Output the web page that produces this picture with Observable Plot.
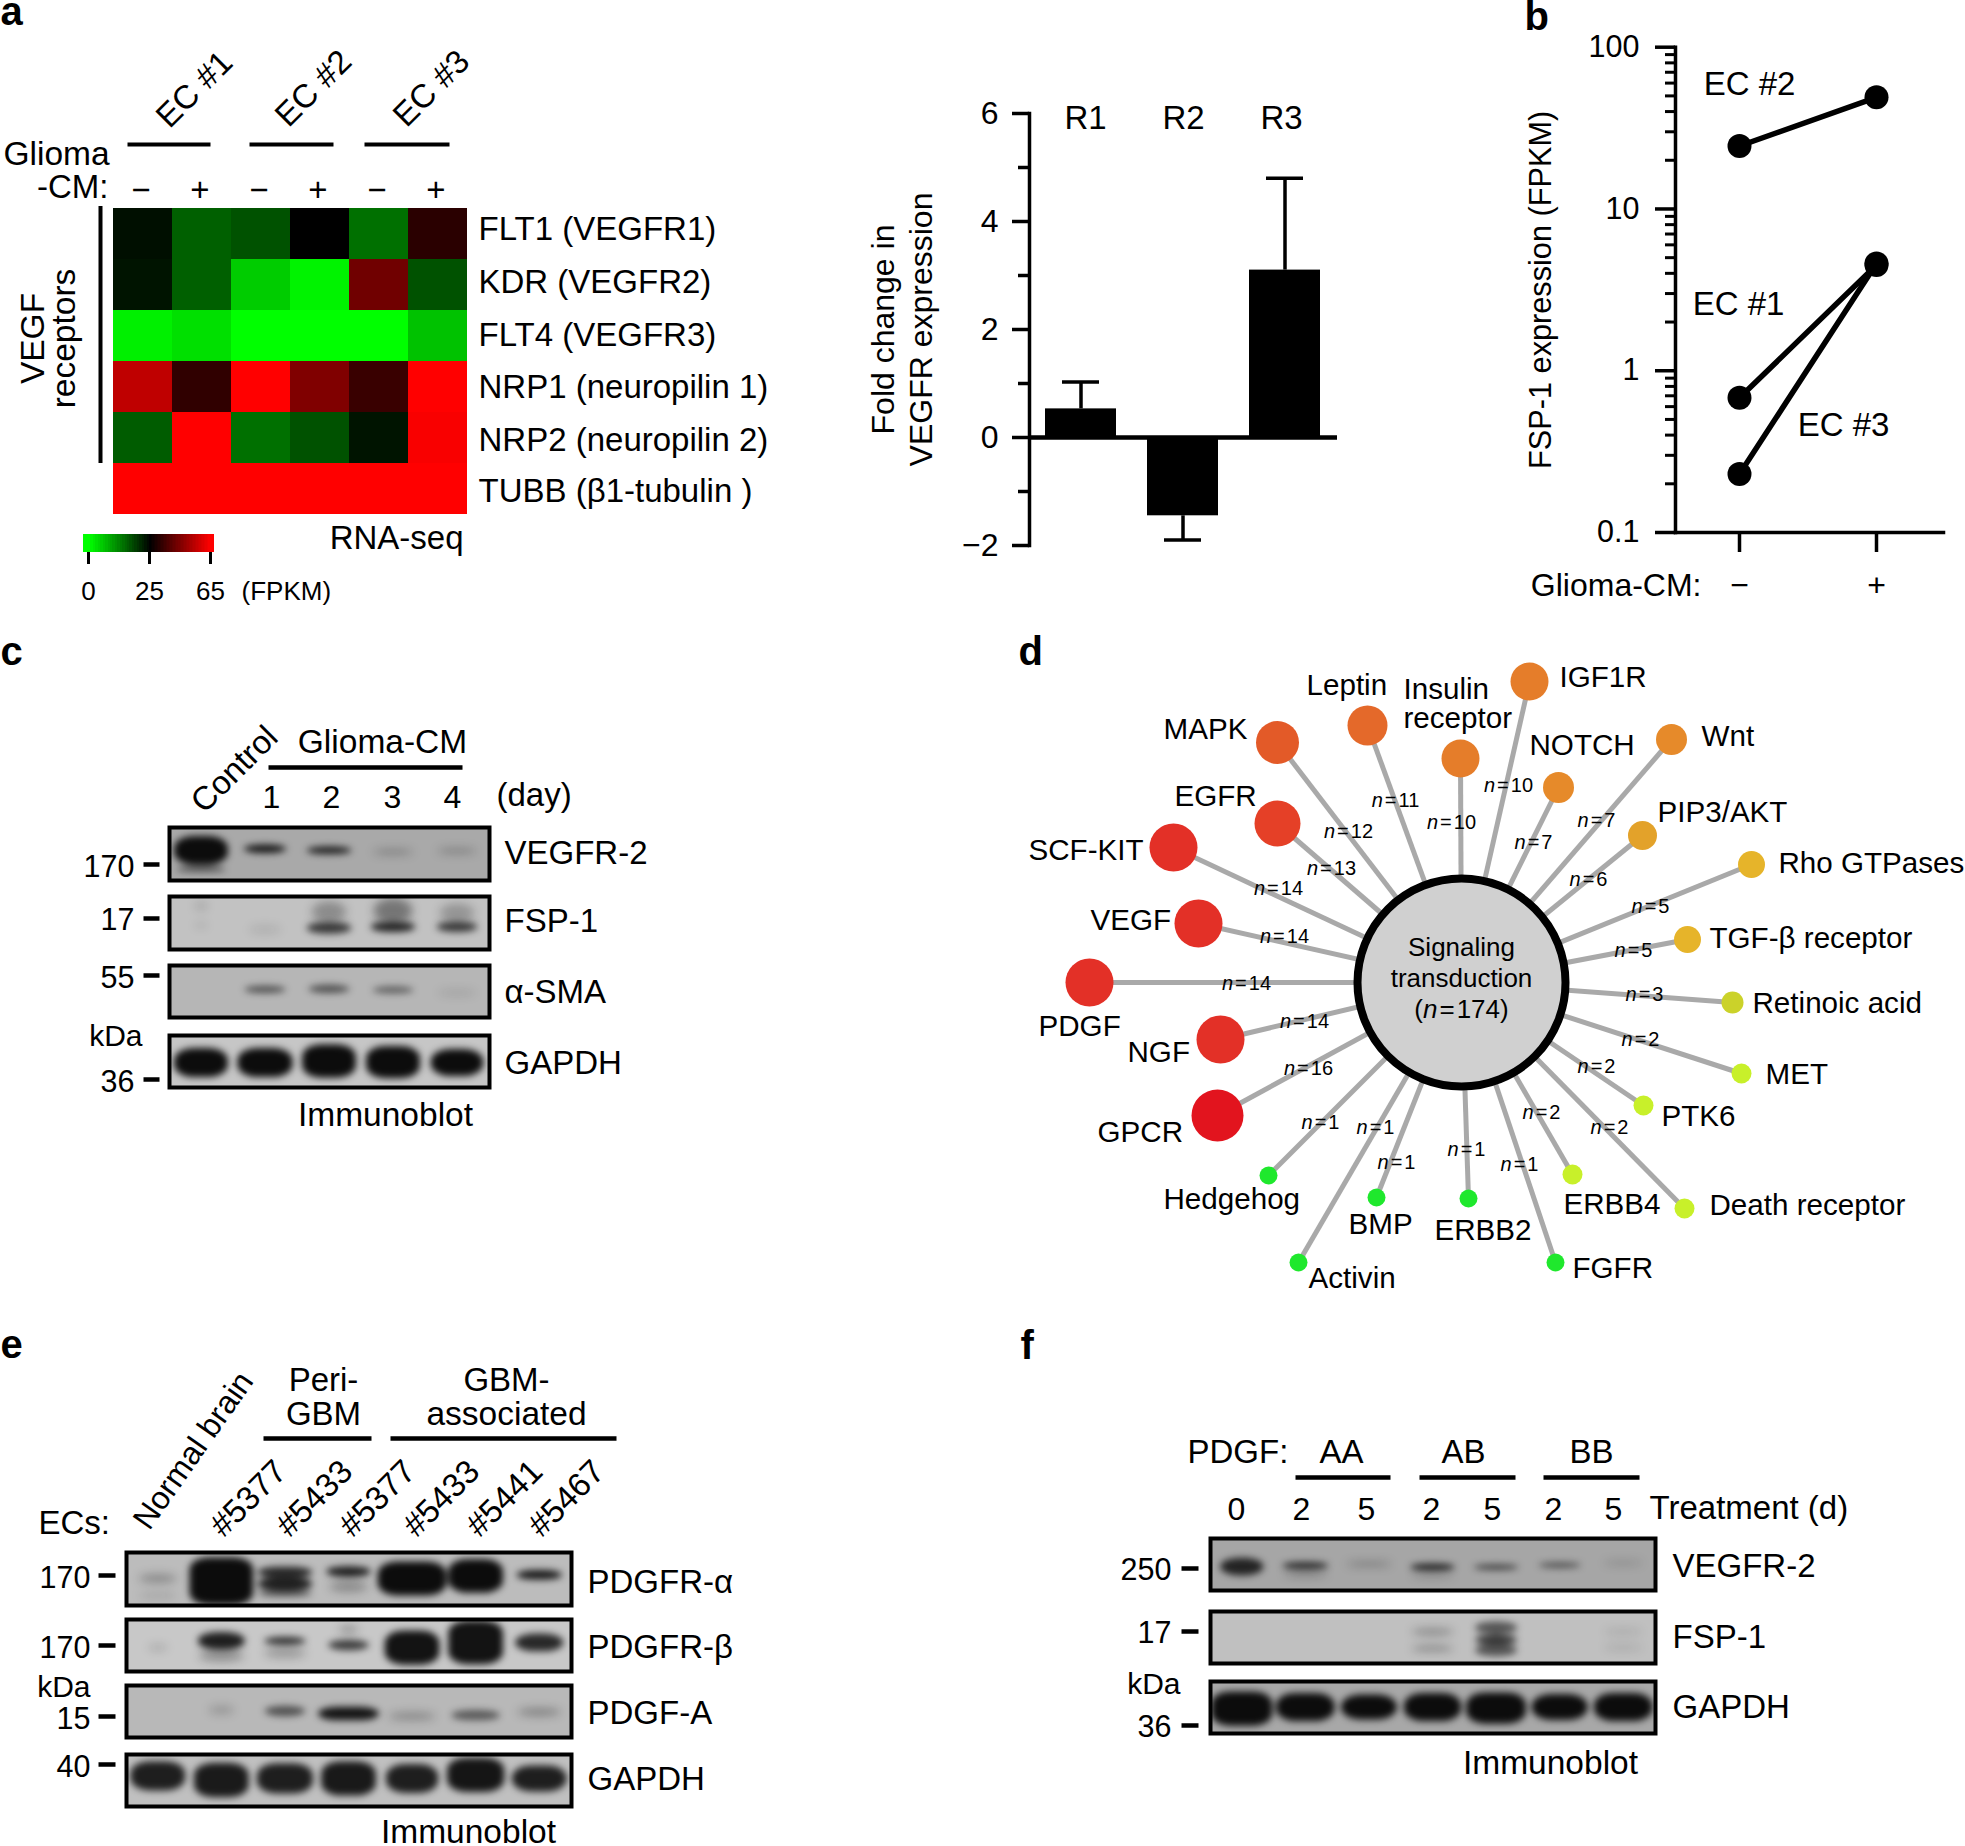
<!DOCTYPE html>
<html>
<head>
<meta charset="utf-8">
<script src="https://cdn.jsdelivr.net/npm/d3@7"></script>
<script src="https://cdn.jsdelivr.net/npm/@observablehq/plot@0.6"></script>
<style>
html,body{margin:0;padding:0;background:#fff}
#root{position:relative;width:1965px;height:1846px;overflow:hidden;background:#fff}
</style>
</head>
<body>
<div id="root"></div>
<script>
const FONT = '"Liberation Sans", Arial, sans-serif';

// ---------- panel a: heat map ----------
const heatColumns = ["EC1 −","EC1 +","EC2 −","EC2 +","EC3 −","EC3 +"];
const heatRows = ["FLT1 (VEGFR1)","KDR (VEGFR2)","FLT4 (VEGFR3)","NRP1 (neuropilin 1)","NRP2 (neuropilin 2)","TUBB (β1-tubulin )"];
const fltOne  = [23.5,15.6,17,25,14,31.6];
const kdr     = [23,15.6,5,1.2,42.6,17];
const fltFour = [1.5,3,0,0,0,6];
const nrpOne  = [55,32.5,65,45,34,65];
const nrpTwo  = [16,65,14,17,23,64];
const tubb    = [65,65,65,65,65,65];
const heatValues = [fltOne,kdr,fltFour,nrpOne,nrpTwo,tubb];
const legendTicks = [0,25,65];

// ---------- panel a: bars ----------
const barCats = ["R1","R2","R3"];
const barValues = [0.53,-1.45,3.1];
const barErrors = [1.03,-1.9,4.8];

// ---------- panel b ----------
const glioma = ["−","+"];
const ecOne = [0.68,4.5];
const ecTwo = [24.5,49];
const ecThree = [0.23,4.6];
const logMajor = [0.1,1,10,100];
const logMinor = [0.2,0.3,0.4,0.5,0.6,0.7,0.8,0.9,2,3,4,5,6,7,8,9,20,30,40,50,60,70,80,90];

// ---------- panel d ----------
const pathways = ["GPCR","NGF","PDGF","VEGF","SCF-KIT","EGFR","MAPK","Leptin","Insulin\nreceptor","IGF1R","NOTCH","Wnt","PIP3/AKT","Rho GTPases","TGF-β receptor","Retinoic acid","MET","PTK6","Death receptor","ERBB4","FGFR","ERBB2","BMP","Activin","Hedgehog"];
const pathwayN = [16,14,14,14,14,13,12,11,10,10,7,7,6,5,5,3,2,2,2,2,1,1,1,1,1];
const nodeX = [1217,1220,1089,1198,1173,1277,1277,1367,1460,1529,1558,1671,1642,1751,1687,1732,1741,1643,1684,1572,1555,1468,1376,1298,1268];
const nodeY = [1115,1039,982,923,847,823,742,725,758,681,787,739,835,864,939,1002,1073,1105,1208,1174,1262,1198,1197,1262,1175];
const nTextX = [1308,1304,1246,1284,1278,1331,1348,1395,1451,1508,1533,1596,1588,1650,1633,1644,1640,1596,1609,1541,1519,1466,1396,1375,1320];
const nTextY = [1068,1021,983,936,888,868,831,800,822,785,842,820,879,906,950,994,1039,1066,1127,1112,1164,1149,1162,1127,1122];
const nameX = [1097,1127,1038,1090,1028,1174,1163,1306,1403,1559,1529,1701,1657,1778,1709,1752,1765,1661,1709,1563,1572,1434,1348,1308,1163];
const nameY = [1132,1052,1026,920,850,796,729,685,704,677,745,736,812,863,938,1003,1074,1116,1205,1204,1268,1230,1224,1278,1199];
const hubLines = ["Signaling","transduction","(n=174)"];

// ---------- blots: [lane, position down the gel, half width, half height, darkness] ----------
const cVegfr = [[0,.44,.42,.27,1],[0,.8,.38,.05,.6],[1,.41,.33,.08,.95],[2,.44,.35,.07,.9],[3,.47,.31,.05,.3],[4,.45,.31,.05,.3]];
const cFsp = [[0,.19,.1,.08,.15],[0,.55,.1,.04,.15],[1,.63,.25,.08,.1],[2,.6,.35,.11,.75],[2,.3,.27,.2,.3],[3,.58,.35,.1,.85],[3,.28,.3,.24,.42],[4,.58,.32,.1,.75],[4,.32,.27,.18,.25]];
const cSma = [[1,.47,.32,.07,.6],[2,.46,.32,.08,.6],[3,.48,.32,.07,.5],[4,.53,.3,.05,.15]];
const cGapdh = [[0,.53,.42,.28,1],[1,.53,.43,.28,1],[2,.5,.42,.32,1],[3,.52,.42,.31,1],[4,.53,.41,.26,1]];

const eAlpha = [[0,.5,.3,.08,.3],[0,.82,.3,.04,.2],[1,.55,.5,.45,1],[2,.38,.43,.1,.85],[2,.6,.43,.12,.9],[2,.78,.42,.06,.6],[3,.37,.35,.1,.9],[3,.65,.3,.1,.3],[4,.5,.54,.32,1],[5,.45,.43,.32,1],[6,.43,.36,.09,.95]];
const eBeta = [[0,.55,.15,.05,.2],[1,.42,.37,.17,.9],[1,.7,.35,.12,.3],[2,.42,.33,.08,.8],[2,.65,.33,.1,.25],[3,.5,.32,.1,.75],[3,.2,.15,.07,.3],[4,.55,.43,.33,.97],[5,.45,.43,.42,.97],[6,.45,.38,.17,.85]];
const ePdgfa = [[1,.48,.2,.08,.2],[2,.5,.32,.1,.6],[3,.55,.48,.13,.95],[4,.6,.37,.07,.3],[5,.58,.38,.1,.55],[6,.52,.34,.07,.35]];
const eGapdh = [[0,.42,.43,.28,.9],[1,.5,.43,.33,.92],[2,.47,.44,.29,.9],[3,.47,.43,.33,.93],[4,.47,.41,.28,.9],[5,.4,.45,.33,.95],[6,.47,.43,.25,.9]];

const fVegfr = [[0,.55,.34,.17,.85],[1,.53,.36,.07,.8],[1,.68,.34,.08,.2],[2,.5,.35,.04,.35],[3,.56,.35,.07,.85],[3,.72,.33,.05,.2],[4,.56,.35,.05,.7],[5,.52,.33,.05,.6],[6,.48,.3,.03,.3]];
const fFsp = [[3,.4,.33,.06,.35],[3,.72,.33,.04,.45],[4,.32,.33,.12,.6],[4,.55,.33,.1,.75],[4,.75,.33,.12,.6],[6,.4,.3,.05,.15],[6,.7,.3,.05,.15]];
const fGapdh = [[0,.53,.48,.33,1],[1,.5,.46,.27,1],[2,.5,.44,.24,1],[3,.5,.45,.27,1],[4,.52,.47,.3,1],[5,.5,.44,.25,1],[6,.5,.46,.27,1]];

// ---------- layout, not data ----------
const blotLayout = [
  {bands:cVegfr,lanes:5,bg:"#a9a9a9",L:167,R:491,T:825,B:882},
  {bands:cFsp,lanes:5,bg:"#c2c2c2",L:167,R:491,T:894,B:951},
  {bands:cSma,lanes:5,bg:"#b6b6b6",L:167,R:491,T:963,B:1019},
  {bands:cGapdh,lanes:5,bg:"#c6c6c6",L:167,R:491,T:1033,B:1089},
  {bands:eAlpha,lanes:7,bg:"#bcbcbc",L:124,R:573,T:1550,B:1607},
  {bands:eBeta,lanes:7,bg:"#c8c8c8",L:124,R:573,T:1617,B:1673},
  {bands:ePdgfa,lanes:7,bg:"#b8b8b8",L:124,R:573,T:1683,B:1739},
  {bands:eGapdh,lanes:7,bg:"#c0c0c0",L:124,R:573,T:1752,B:1808},
  {bands:fVegfr,lanes:7,bg:"#a6a6a6",L:1208,R:1657,T:1536,B:1592},
  {bands:fFsp,lanes:7,bg:"#c0c0c0",L:1208,R:1657,T:1609,B:1665},
  {bands:fGapdh,lanes:7,bg:"#a8a8a8",L:1208,R:1657,T:1679,B:1735}
];

const heatLabelY = [229,282,335,387,440,491];
const startTexts = [
  ...heatRows.map((t,i)=>[t,478,heatLabelY[i]]),
  ["Glioma",3,154,33.5],
  ["(FPKM)",241,591,26],
  ["VEGFR-2",504,853],["FSP-1",504,921],["α-SMA",504,992],["GAPDH",504,1063],["(day)",496,795],
  ["ECs:",38,1523],
  ["PDGFR-α",587,1582],["PDGFR-β",587,1647],["PDGF-A",587,1713],["GAPDH",587,1779],
  ["PDGF:",1187,1452],["Treatment (d)",1649,1508],
  ["VEGFR-2",1672,1566],["FSP-1",1672,1637],["GAPDH",1672,1707]
];
const endTexts = [
  ["-CM:",108,187],["RNA-seq",463,538],
  ["170",134,867,30.5],["17",134,920,30.5],["55",134,978,30.5],["kDa",142,1036,30],["36",134,1082,30.5],
  ["170",90,1578,30.5],["170",90,1648,30.5],["kDa",90,1687,30],["15",90,1719,30.5],["40",90,1767,30.5],
  ["250",1171,1570,30.5],["17",1171,1633,30.5],["kDa",1180,1684,30],["36",1171,1727,30.5]
];
const middleTexts = [
  ...barCats.map((t,i)=>[t,[1085,1183,1281][i],118]),
  ["EC #2",1749,84],["EC #1",1738,304],["EC #3",1843,425],
  ["Glioma-CM",382,742,33.5],["1",271,797,32],["2",331,797,32],["3",392,797,32],["4",452,797,32],["Immunoblot",385,1115,33.5],
  ["Peri-",323,1380],["GBM",323,1414],["GBM-",506,1380],["associated",506,1414,33.5],["Immunoblot",468,1832,33.5],
  ["AA",1341,1452],["AB",1463,1452],["BB",1591,1452],
  ["0",1236,1509,32],["2",1301,1509,32],["5",1366,1509,32],["2",1431,1509,32],["5",1492,1509,32],["2",1553,1509,32],["5",1613,1509,32],
  ["Immunoblot",1550,1763,33.5]
];
const slantTexts = [
  ["EC #1",194,89],["EC #2",313,88],["EC #3",431,88],
  ["Control",234,769],
  ["#5377",248,1498],["#5433",314,1498],["#5377",377,1498],["#5433",441,1498],["#5441",504,1498],["#5467",566,1498]
];
const steepTexts = [["Normal brain",193,1450]];
const uprightTexts = [["VEGF",33,338,33.5],["receptors",64,338,33.5]];
const letters = [["a",0,12],["b",1524,17],["c",0,652],["d",1018,652],["e",0,1345],["f",1020,1346]];
const bars = [
  [127,210,144,4],[249,333,144,4],[364,449,144,4],
  [268,462,767,4.5],
  [263,371,1438,4.5],[390,616,1438,4.5],
  [1295,1390,1477,4.5],[1419,1515,1477,4.5],[1543,1639,1477,4.5],
  [143,159,864,4.5],[143,159,918,4.5],[143,159,975,4.5],[143,159,1079,4.5],
  [98,115,1575,4.5],[98,115,1645,4.5],[98,115,1716,4.5],[98,115,1764,4.5],
  [1181,1198,1568,4.5],[1181,1198,1631,4.5],[1181,1198,1725,4.5]
];

// ---------- helpers ----------
const root = document.getElementById("root");
const baseStyle = {background:"transparent",fontFamily:FONT,overflow:"visible",color:"#000"};
function place(el,left,top){
  el.style.position="absolute";
  el.style.left=left+"px";
  el.style.top=top+"px";
  root.appendChild(el);
  return el;
}
function italicN(svg){
  svg.querySelectorAll("text").forEach(t=>{
    const m=/^(\(?)n=(\d+)(\)?)$/.exec(t.textContent);
    if(m) t.innerHTML=`${m[1]}<tspan font-style="italic">n</tspan><tspan dx="2">=</tspan><tspan dx="2">${m[2]}</tspan>${m[3]}`;
  });
}

// heat map
const heatTable = heatRows.flatMap((r,i)=>heatColumns.map((c,j)=>({r,c,v:heatValues[i][j]})));
place(Plot.plot({
  width:356,height:364,marginTop:58,marginLeft:0,marginRight:0,marginBottom:0,style:baseStyle,
  x:{type:"band",domain:heatColumns,padding:0,axis:null},
  y:{type:"band",domain:heatRows,padding:0,axis:null},
  color:{type:"linear",domain:legendTicks,range:["#00ff00","#000000","#ff0000"]},
  marks:[
    Plot.cell(heatTable,{x:"c",y:"r",fill:"v",shapeRendering:"crispEdges"}),
    Plot.axisX({anchor:"top",tickSize:0,tickPadding:8,dx:-2,fontSize:33,label:null,tickFormat:d=>d.slice(-1)})
  ]
}),112,150);

// colour legend
place(Plot.plot({
  width:131,height:60,marginTop:0,marginLeft:0,marginRight:0,marginBottom:42,style:baseStyle,
  x:{type:"linear",domain:[-2,0,25,65,67],range:[0,5,66,127,131],axis:null},
  y:{axis:null},
  color:{type:"linear",domain:legendTicks,range:["#00ff00","#000000","#ff0000"],clamp:true},
  marks:[
    Plot.rect(d3.range(-2,67),{x1:d=>d,x2:d=>d+1,fill:d=>d,shapeRendering:"crispEdges"}),
    Plot.axisX({anchor:"bottom",ticks:legendTicks,tickSize:12,tickPadding:17,strokeWidth:3,fontSize:26,label:null,tickFormat:d=>d})
  ]
}),83,534);

// bars
const barTable = barCats.map((c,i)=>({c,v:barValues[i],e:barErrors[i]}));
place(Plot.plot({
  width:368,height:465,marginTop:23,marginBottom:10,marginLeft:60,marginRight:0,style:baseStyle,
  x:{type:"band",domain:barCats,paddingInner:.3,paddingOuter:.15,axis:null},
  y:{domain:[-2,6],axis:null},
  marks:[
    Plot.ruleX(barTable,{x:"c",y1:"v",y2:"e",strokeWidth:3.5}),
    Plot.tickY(barTable,{x:"c",y:"e",strokeWidth:3.5,insetLeft:17,insetRight:17}),
    Plot.barY(barTable,{x:"c",y:"v",fill:"black"}),
    Plot.ruleY([0],{strokeWidth:4.5}),
    Plot.frame({anchor:"left",strokeWidth:3.5}),
    Plot.axisY({ticks:[-2,0,2,4,6],tickSize:17,tickPadding:14,strokeWidth:3.5,fontSize:32,label:null,tickFormat:d=>d<0?"−"+(-d):d}),
    Plot.axisY({ticks:[-1,1,3,5],tickSize:11,strokeWidth:3.5,label:null,tickFormat:()=>""}),
    Plot.text(["Fold change in\nVEGFR expression"],{frameAnchor:"left",textAnchor:"middle",dx:-129,rotate:-90,fontSize:32,lineHeight:1.2})
  ]
}),969,90);

// panel b
const lineTable = [["EC #1",ecOne],["EC #2",ecTwo],["EC #3",ecThree]].flatMap(([ec,vals])=>vals.map((v,i)=>({ec,v,g:glioma[i]})));
place(Plot.plot({
  width:328,height:562,marginTop:16.7,marginBottom:60,marginLeft:60,marginRight:0,style:baseStyle,
  x:{type:"point",domain:glioma,range:[124,261],padding:0,axis:null},
  y:{type:"log",domain:[0.1,100],axis:null},
  marks:[
    Plot.line(lineTable,{x:"g",y:"v",z:"ec",strokeWidth:5.5}),
    Plot.dot(lineTable,{x:"g",y:"v",r:12,fill:"black"}),
    Plot.frame({anchor:"left",strokeWidth:3.5}),
    Plot.frame({anchor:"bottom",strokeWidth:3.5}),
    Plot.axisY({ticks:logMajor,tickSize:20,tickPadding:16,strokeWidth:3.5,fontSize:30.5,label:null,tickFormat:d=>String(d)}),
    Plot.axisY({ticks:logMinor,tickSize:10,strokeWidth:3,label:null,tickFormat:()=>""}),
    Plot.axisX({anchor:"bottom",tickSize:20,tickPadding:21,strokeWidth:3.5,fontSize:32,label:null}),
    Plot.text(["FSP-1 expression (FPKM)"],{frameAnchor:"left",textAnchor:"middle",dx:-134,rotate:-90,fontSize:30.7}),
    Plot.text(["Glioma-CM:"],{frameAnchor:"bottom-left",dx:26,dy:63,textAnchor:"end",fontSize:32})
  ]
}),1615,30);

// panel d
const nodes = pathways.map((name,i)=>({name,n:pathwayN[i],x:nodeX[i],y:nodeY[i],tx:nTextX[i],ty:nTextY[i],lx:nameX[i],ly:nameY[i]}));
const hub = [{x:1461,y:982}];
const dPlot = Plot.plot({
  width:965,height:700,margin:0,style:baseStyle,
  x:{domain:[1000,1965],range:[0,965],axis:null},
  y:{domain:[630,1330],range:[0,700],axis:null},
  r:{type:"linear",domain:[1,2,3,5,6,7,10,11,12,13,14,16],range:[9,10,11,13.5,14.5,15.5,19,20,21.5,23,24,26]},
  color:{type:"linear",domain:[1,2,3,5,6,7,10,11,12,13,14,16],range:["#1fe82d","#c8f02a","#cbd22a","#e6b42a","#e3a22a","#e68a2a","#e57d2a","#e4692a","#e35a28","#e54027","#e33027","#e2141e"]},
  marks:[
    Plot.link(nodes,{x1:()=>hub[0].x,y1:()=>hub[0].y,x2:"x",y2:"y",stroke:"#a9a9a9",strokeWidth:5}),
    Plot.dot(hub,{x:"x",y:"y",r:104,fill:"#d0d0d0",stroke:"black",strokeWidth:8}),
    Plot.dot(nodes,{x:"x",y:"y",r:"n",fill:"n"}),
    Plot.text(nodes,{x:"tx",y:"ty",text:d=>"n="+d.n,fontSize:20}),
    Plot.text(nodes,{x:"lx",y:"ly",text:"name",textAnchor:"start",fontSize:29.6,lineHeight:.96}),
    Plot.text(hubLines,{x:()=>hub[0].x,y:(d,i)=>947+i*31,text:d=>d,fontSize:26})
  ]
});
italicN(dPlot);
place(dPlot,1000,630);

// blots
blotLayout.forEach(b=>{
  const w=b.R-b.L-4,h=b.B-b.T-4;
  const band={
    x1:d=>d[0]-d[2],x2:d=>d[0]+d[2],y1:d=>d[1]-d[3],y2:d=>d[1]+d[3],
    fill:"#0c0c0c",fillOpacity:d=>d[4],rx:20,ry:12,clip:"frame"
  };
  place(Plot.plot({
    width:w,height:h,margin:0,style:baseStyle,
    x:{domain:[-.5,b.lanes-.5],axis:null},
    y:{domain:[0,1],range:[0,h],axis:null},
    opacity:{type:"identity"},
    marks:[
      Plot.frame({fill:b.bg}),
      Plot.rect(b.bands.filter(d=>d[4]<.5),{...band,imageFilter:"blur(5px)"}),
      Plot.rect(b.bands.filter(d=>d[4]>=.5),{...band,imageFilter:"blur(3.5px)"}),
      Plot.frame({stroke:"black",strokeWidth:4})
    ]
  }),b.L+2,b.T+2);
});

// page annotations
const textRow=d=>({t:d[0],x:d[1],y:d[2],s:d[3]||33});
const textOpts={x:"x",y:"y",text:"t",fontSize:"s"};
place(Plot.plot({
  width:1965,height:1846,margin:0,style:baseStyle,
  x:{domain:[0,1965],range:[0,1965],axis:null},
  y:{domain:[0,1846],range:[0,1846],axis:null},
  marks:[
    Plot.link(bars,{x1:d=>d[0],x2:d=>d[1],y1:d=>d[2],y2:d=>d[2],strokeWidth:d=>d[3],stroke:"black"}),
    Plot.ruleX([100],{y1:206,y2:463,strokeWidth:4}),
    Plot.text(startTexts.map(textRow),{...textOpts,textAnchor:"start"}),
    Plot.text(endTexts.map(textRow),{...textOpts,textAnchor:"end"}),
    Plot.text(middleTexts.map(textRow),{...textOpts,textAnchor:"middle"}),
    Plot.text(slantTexts.map(textRow),{...textOpts,rotate:-45}),
    Plot.text(steepTexts.map(d=>({...textRow(d),s:32})),{...textOpts,rotate:-55}),
    Plot.text(uprightTexts.map(textRow),{...textOpts,rotate:-90}),
    Plot.text(letters.map(textRow),{x:"x",y:"y",text:"t",fontSize:40,fontWeight:"bold",textAnchor:"start"})
  ]
}),0,0);
</script>
</body>
</html>
